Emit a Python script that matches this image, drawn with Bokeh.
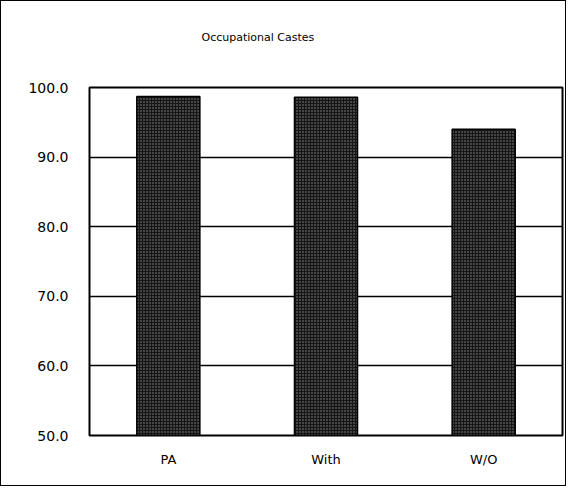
from bokeh.plotting import figure
from bokeh.models import FixedTicker, NumeralTickFormatter, Range1d
from bokeh.embed import file_html
from bokeh.resources import INLINE

categories = ["PA", "With", "W/O"]
values = [98.7, 98.6, 94.0]
y_ticks = [50, 60, 70, 80, 90, 100]
title_text = "Occupational Castes"

p = figure(x_range=categories, y_range=Range1d(50, 100), width=566, height=486,
           output_backend="svg", toolbar_location=None,
           min_border_left=88, min_border_right=5, min_border_top=86, min_border_bottom=52)
p.styles = {"border": "1px solid black"}

p.title.text = title_text + "\n \n "
p.title.text_font = "DejaVu Sans"
p.title.text_font_size = "11px"
p.title.text_font_style = "normal"
p.title.text_color = "black"
p.title.align = "left"
p.title.offset = 112
p.title.standoff = 36

p.vbar(x=categories, top=values, bottom=50, width=0.4,
       fill_color="#161616", line_color="black", line_width=1.5,
       hatch_pattern="dot", hatch_color="#8c8c8c", hatch_scale=3, hatch_weight=1)

p.outline_line_color = "black"
p.outline_line_width = 2
p.xgrid.grid_line_color = None
p.ygrid.grid_line_color = "black"
p.ygrid.grid_line_width = 1.5
p.ygrid.level = "underlay"

p.yaxis.ticker = FixedTicker(ticks=y_ticks)
p.yaxis.formatter = NumeralTickFormatter(format="0.0")
for ax in (p.xaxis, p.yaxis):
    ax.axis_line_color = None
    ax.major_tick_line_color = None
    ax.minor_tick_line_color = None
    ax.major_label_text_color = "black"
    ax.major_label_text_font = "DejaVu Sans"
p.yaxis.major_label_text_font_size = "14px"
p.yaxis.major_label_standoff = 15
p.xaxis.major_label_text_font_size = "13px"
p.xaxis.major_label_standoff = 10

open("out.html", "w").write(file_html(p, INLINE))
